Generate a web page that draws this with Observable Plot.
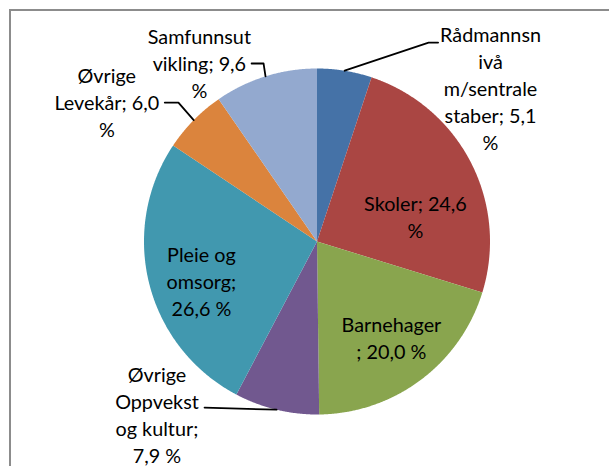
<!DOCTYPE html>
<html>
<head>
<meta charset="utf-8">
<script src="https://cdn.jsdelivr.net/npm/d3@7"></script>
<script src="https://cdn.jsdelivr.net/npm/@observablehq/plot@0.6"></script>
<style>
  html, body { margin: 0; padding: 0; background: #fff; }
  #wrap { position: relative; width: 609px; height: 466px; overflow: hidden; }
  #border { position: absolute; left: 9px; top: 9px; width: 620px; height: 480px;
            border-top: 2px solid #8c8c8c; border-left: 2px solid #8c8c8c; box-sizing: border-box; }
  #chart { position: absolute; left: 0; top: 0; }
</style>
</head>
<body>
<div id="wrap"><div id="border"></div><div id="chart"></div></div>
<script>
// ---- data ----
const categories = ["Rådmannsnivå m/sentrale staber", "Skoler", "Barnehager", "Øvrige Oppvekst og kultur", "Pleie og omsorg", "Øvrige Levekår", "Samfunnsutvikling"];
const shares = [5.1, 24.6, 20.0, 7.9, 26.6, 6.0, 9.6];
const labelTexts = ["Rådmannsn\nivå\nm/sentrale\nstaber; 5,1\n%", "Skoler; 24,6\n%", "Barnehager\n; 20,0 %", "Øvrige\nOppvekst\nog kultur;\n7,9 %", "Pleie og\nomsorg;\n26,6 %", "Øvrige\nLevekår; 6,0\n%", "Samfunnsut\nvikling; 9,6\n%"];
const colors = ["#4572a7", "#aa4643", "#89a54e", "#71588f", "#4198af", "#db843d", "#93a9cf"];

// ---- layout (in pie-radius units, centre = 0,0) ----
const R = 173, W = 609, H = 466, CX = 316.5, CY = 241;
const labelPos = [[1.003, 0.893], [0.569, 0.150], [0.43, -0.549], [-0.925, -0.997], [-0.668, -0.225], [-1.215, 0.809], [-0.68, 1.038]];
// leader elbows (label side) for labels placed outside, null = none
const leaderElbows = [[[0.700, 1.150], [0.645, 1.150]], null, null, [[-0.650, -0.960]], null, [[-0.880, 0.803], [-0.801, 0.803]], [[-0.378, 1.029], [-0.309, 1.029]]];

const arcs = d3.pie().sort(null)(shares);

const slicePts = [];
arcs.forEach((a, i) => {
  const n = Math.max(2, Math.ceil((a.endAngle - a.startAngle) / 0.005));
  slicePts.push({cat: categories[i], x: 0, y: 0});
  for (let k = 0; k <= n; k++) {
    const t = a.startAngle + (a.endAngle - a.startAngle) * k / n;
    slicePts.push({cat: categories[i], x: Math.sin(t), y: Math.cos(t)});
  }
  slicePts.push({cat: categories[i], x: 0, y: 0});
});

const leaderPts = [];
arcs.forEach((a, i) => {
  if (!leaderElbows[i]) return;
  const m = (a.startAngle + a.endAngle) / 2;
  leaderElbows[i].forEach(([x, y]) => leaderPts.push({cat: categories[i], x, y}));
  leaderPts.push({cat: categories[i], x: Math.sin(m), y: Math.cos(m)});
});

const labels = categories.map((c, i) => ({cat: c, text: labelTexts[i], x: labelPos[i][0], y: labelPos[i][1]}));

const chart = Plot.plot({
  width: W, height: H, margin: 0,
  style: {background: "transparent", overflow: "visible"},
  x: {domain: [-CX / R, (W - CX) / R], axis: null},
  y: {domain: [-(H - CY) / R, CY / R], axis: null},
  color: {domain: categories, range: colors},
  marks: [
    Plot.line(slicePts, {x: "x", y: "y", z: "cat", fill: "cat", stroke: "none", curve: "linear"}),
    Plot.line(leaderPts, {x: "x", y: "y", z: "cat", stroke: "#000", strokeWidth: 1.8, curve: "linear"}),
    Plot.text(labels, {x: "x", y: "y", text: "text", fontSize: 19.8, lineHeight: 1.364,
      fontFamily: "Lato, sans-serif", fill: "#000", textAnchor: "middle", lineAnchor: "middle"})
  ]
});
document.getElementById("chart").appendChild(chart);
</script>
</body>
</html>
